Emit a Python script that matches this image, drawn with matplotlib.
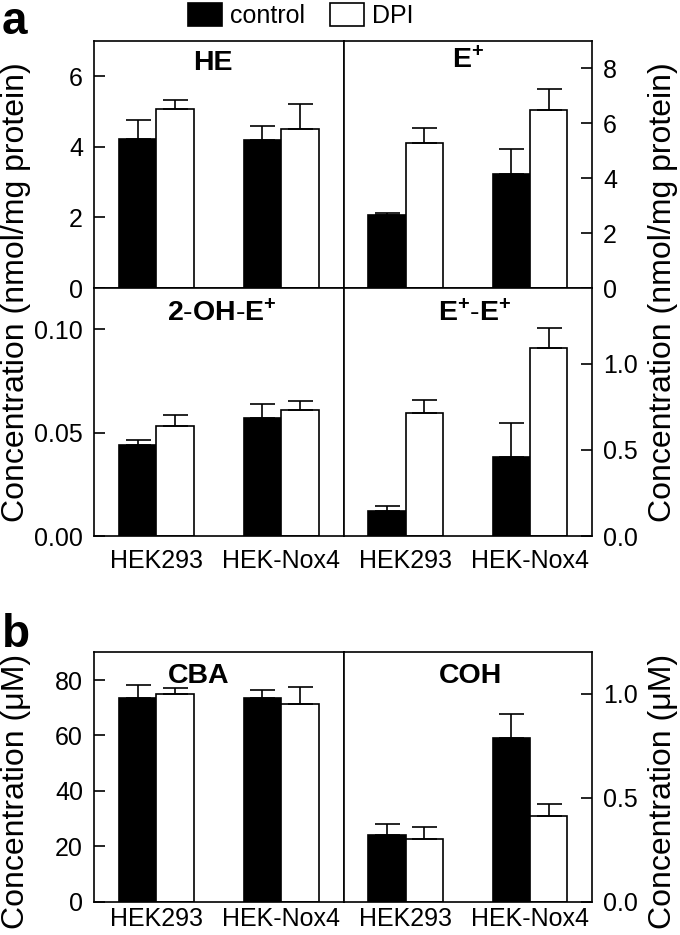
import numpy as np
import matplotlib
matplotlib.use('Agg')
import matplotlib.pyplot as plt
from matplotlib.patches import Patch

plt.rcParams['font.family'] = ['Liberation Sans', 'DejaVu Sans']
plt.rcParams['mathtext.fontset'] = 'custom'
plt.rcParams['mathtext.rm'] = 'Liberation Sans'
plt.rcParams['mathtext.bf'] = 'Liberation Sans:bold'

# cell lines
groups = ['HEK293', 'HEK-Nox4']
series = ['control', 'DPI']

# panel a (nmol/mg protein)
he_ctrl = [4.22, 4.19]
he_ctrl_err = [0.53, 0.40]
he_dpi = [5.08, 4.51]
he_dpi_err = [0.24, 0.71]

ep_ctrl = [2.64, 4.14]
ep_ctrl_err = [0.09, 0.91]
ep_dpi = [5.26, 6.46]
ep_dpi_err = [0.58, 0.77]

oh_ctrl = [0.0439, 0.0571]
oh_ctrl_err = [0.0024, 0.0066]
oh_dpi = [0.0532, 0.0610]
oh_dpi_err = [0.0052, 0.0045]

ee_ctrl = [0.147, 0.461]
ee_ctrl_err = [0.027, 0.196]
ee_dpi = [0.717, 1.091]
ee_dpi_err = [0.070, 0.114]

# panel b (uM)
cba_ctrl = [73.6, 73.6]
cba_ctrl_err = [4.7, 2.8]
cba_dpi = [75.1, 71.4]
cba_dpi_err = [2.0, 6.0]

coh_ctrl = [0.321, 0.789]
coh_ctrl_err = [0.054, 0.116]
coh_dpi = [0.303, 0.412]
coh_dpi_err = [0.056, 0.058]

W, H = 680, 935
fig = plt.figure(figsize=(W / 100, H / 100), dpi=100)


def rect(x0, y0, x1, y1):
    # pixel box (top-left origin) -> figure fraction
    return [x0 / W, 1 - y1 / H, (x1 - x0) / W, (y1 - y0) / H]


LW = 1.2
L, M, R = 94, 343.5, 592


def draw(ax, ctrl, ctrl_err, dpi, dpi_err, ylim, ticks, labels, side, title, tx, ty, xpad):
    x = np.array([1.0, 3.0])
    ax.bar(x - 0.3, ctrl, 0.6, color='black', edgecolor='black', linewidth=LW, zorder=2)
    ax.bar(x + 0.3, dpi, 0.6, color='white', edgecolor='black', linewidth=LW, zorder=2)
    ax.errorbar(x - 0.3, ctrl, yerr=[np.zeros(2), ctrl_err], fmt='none', ecolor='black',
                elinewidth=LW, capsize=9, capthick=LW, zorder=3)
    ax.errorbar(x + 0.3, dpi, yerr=[np.zeros(2), dpi_err], fmt='none', ecolor='black',
                elinewidth=LW, capsize=9, capthick=LW, zorder=3)
    ax.set_xlim(0, 4)
    ax.set_ylim(*ylim)
    ax.set_yticks(ticks)
    ax.set_yticklabels(labels)
    for s in ax.spines.values():
        s.set_linewidth(LW)
    ax.tick_params(axis='y', direction='in', length=8, width=LW, labelsize=18, pad=8)
    if side == 'right':
        ax.tick_params(axis='y', left=False, right=True, labelleft=False, labelright=True)
    ax.set_xticks(x)
    if xpad is not None:
        ax.set_xticklabels(groups)
        ax.tick_params(axis='x', length=0, labelsize=18, pad=xpad)
    else:
        ax.tick_params(axis='x', length=0, labelbottom=False)
    ax.text(tx, ty, title, transform=ax.transAxes, ha='center', va='top',
            fontsize=20.5, fontweight='bold')


ax1 = fig.add_axes(rect(L, 40.7, M, 288))
draw(ax1, he_ctrl, he_ctrl_err, he_dpi, he_dpi_err, (0, 7), [0, 2, 4, 6],
     ['0', '2', '4', '6'], 'left', 'HE', 0.478, 0.962, None)

ax2 = fig.add_axes(rect(M, 40.7, R, 288))
draw(ax2, ep_ctrl, ep_ctrl_err, ep_dpi, ep_dpi_err, (0, 9), [0, 2, 4, 6, 8],
     ['0', '2', '4', '6', '8'], 'right', r'$\mathbf{E^{+}}$', 0.5, 0.976, None)

ax3 = fig.add_axes(rect(L, 288, M, 536))
draw(ax3, oh_ctrl, oh_ctrl_err, oh_dpi, oh_dpi_err, (0, 0.12), [0, 0.05, 0.10],
     ['0.00', '0.05', '0.10'], 'left', r'$\mathbf{2\text{-}OH\text{-}E^{+}}$', 0.514, 0.952, 9)

ax4 = fig.add_axes(rect(M, 288, R, 536))
draw(ax4, ee_ctrl, ee_ctrl_err, ee_dpi, ee_dpi_err, (0, 1.44), [0, 0.5, 1.0],
     ['0.0', '0.5', '1.0'], 'right', r'$\mathbf{E^{+}\text{-}E^{+}}$', 0.526, 0.952, 9)

ax5 = fig.add_axes(rect(L, 652.3, M, 901.7))
draw(ax5, cba_ctrl, cba_ctrl_err, cba_dpi, cba_dpi_err, (0, 90), [0, 20, 40, 60, 80],
     ['0', '20', '40', '60', '80'], 'left', 'CBA', 0.42, 0.957, 4)

ax6 = fig.add_axes(rect(M, 652.3, R, 901.7))
draw(ax6, coh_ctrl, coh_ctrl_err, coh_dpi, coh_dpi_err, (0, 1.2), [0, 0.5, 1.0],
     ['0.0', '0.5', '1.0'], 'right', 'COH', 0.51, 0.957, 4)

# axis titles
fig.text(16 / W, 1 - 292.5 / H, 'Concentration (nmol/mg protein)', rotation=90,
         ha='center', va='center', fontsize=23)
fig.text(663 / W, 1 - 292.5 / H, 'Concentration (nmol/mg protein)', rotation=90,
         ha='center', va='center', fontsize=23)
fig.text(16 / W, 1 - 791.5 / H, 'Concentration (\u03bcM)', rotation=90,
         ha='center', va='center', fontsize=23)
fig.text(663 / W, 1 - 791.5 / H, 'Concentration (\u03bcM)', rotation=90,
         ha='center', va='center', fontsize=23)

# panel letters
fig.text(2 / W, 1.0, 'a', ha='left', va='top', fontsize=33, fontweight='bold')
fig.text(2 / W, 1 - 613 / H, 'b', ha='left', va='top', fontsize=33, fontweight='bold')

handles = [Patch(facecolor='black', edgecolor='black', linewidth=LW),
           Patch(facecolor='white', edgecolor='black', linewidth=LW)]
fig.legend(handles, series, loc='upper center', bbox_to_anchor=(301 / W, 1.0),
           ncol=2, frameon=False, fontsize=18, handlelength=1.36, handleheight=1.08,
           handletextpad=0.32, columnspacing=1.0, borderpad=0.1, borderaxespad=0.0)

fig.savefig('out.png', dpi=100)
